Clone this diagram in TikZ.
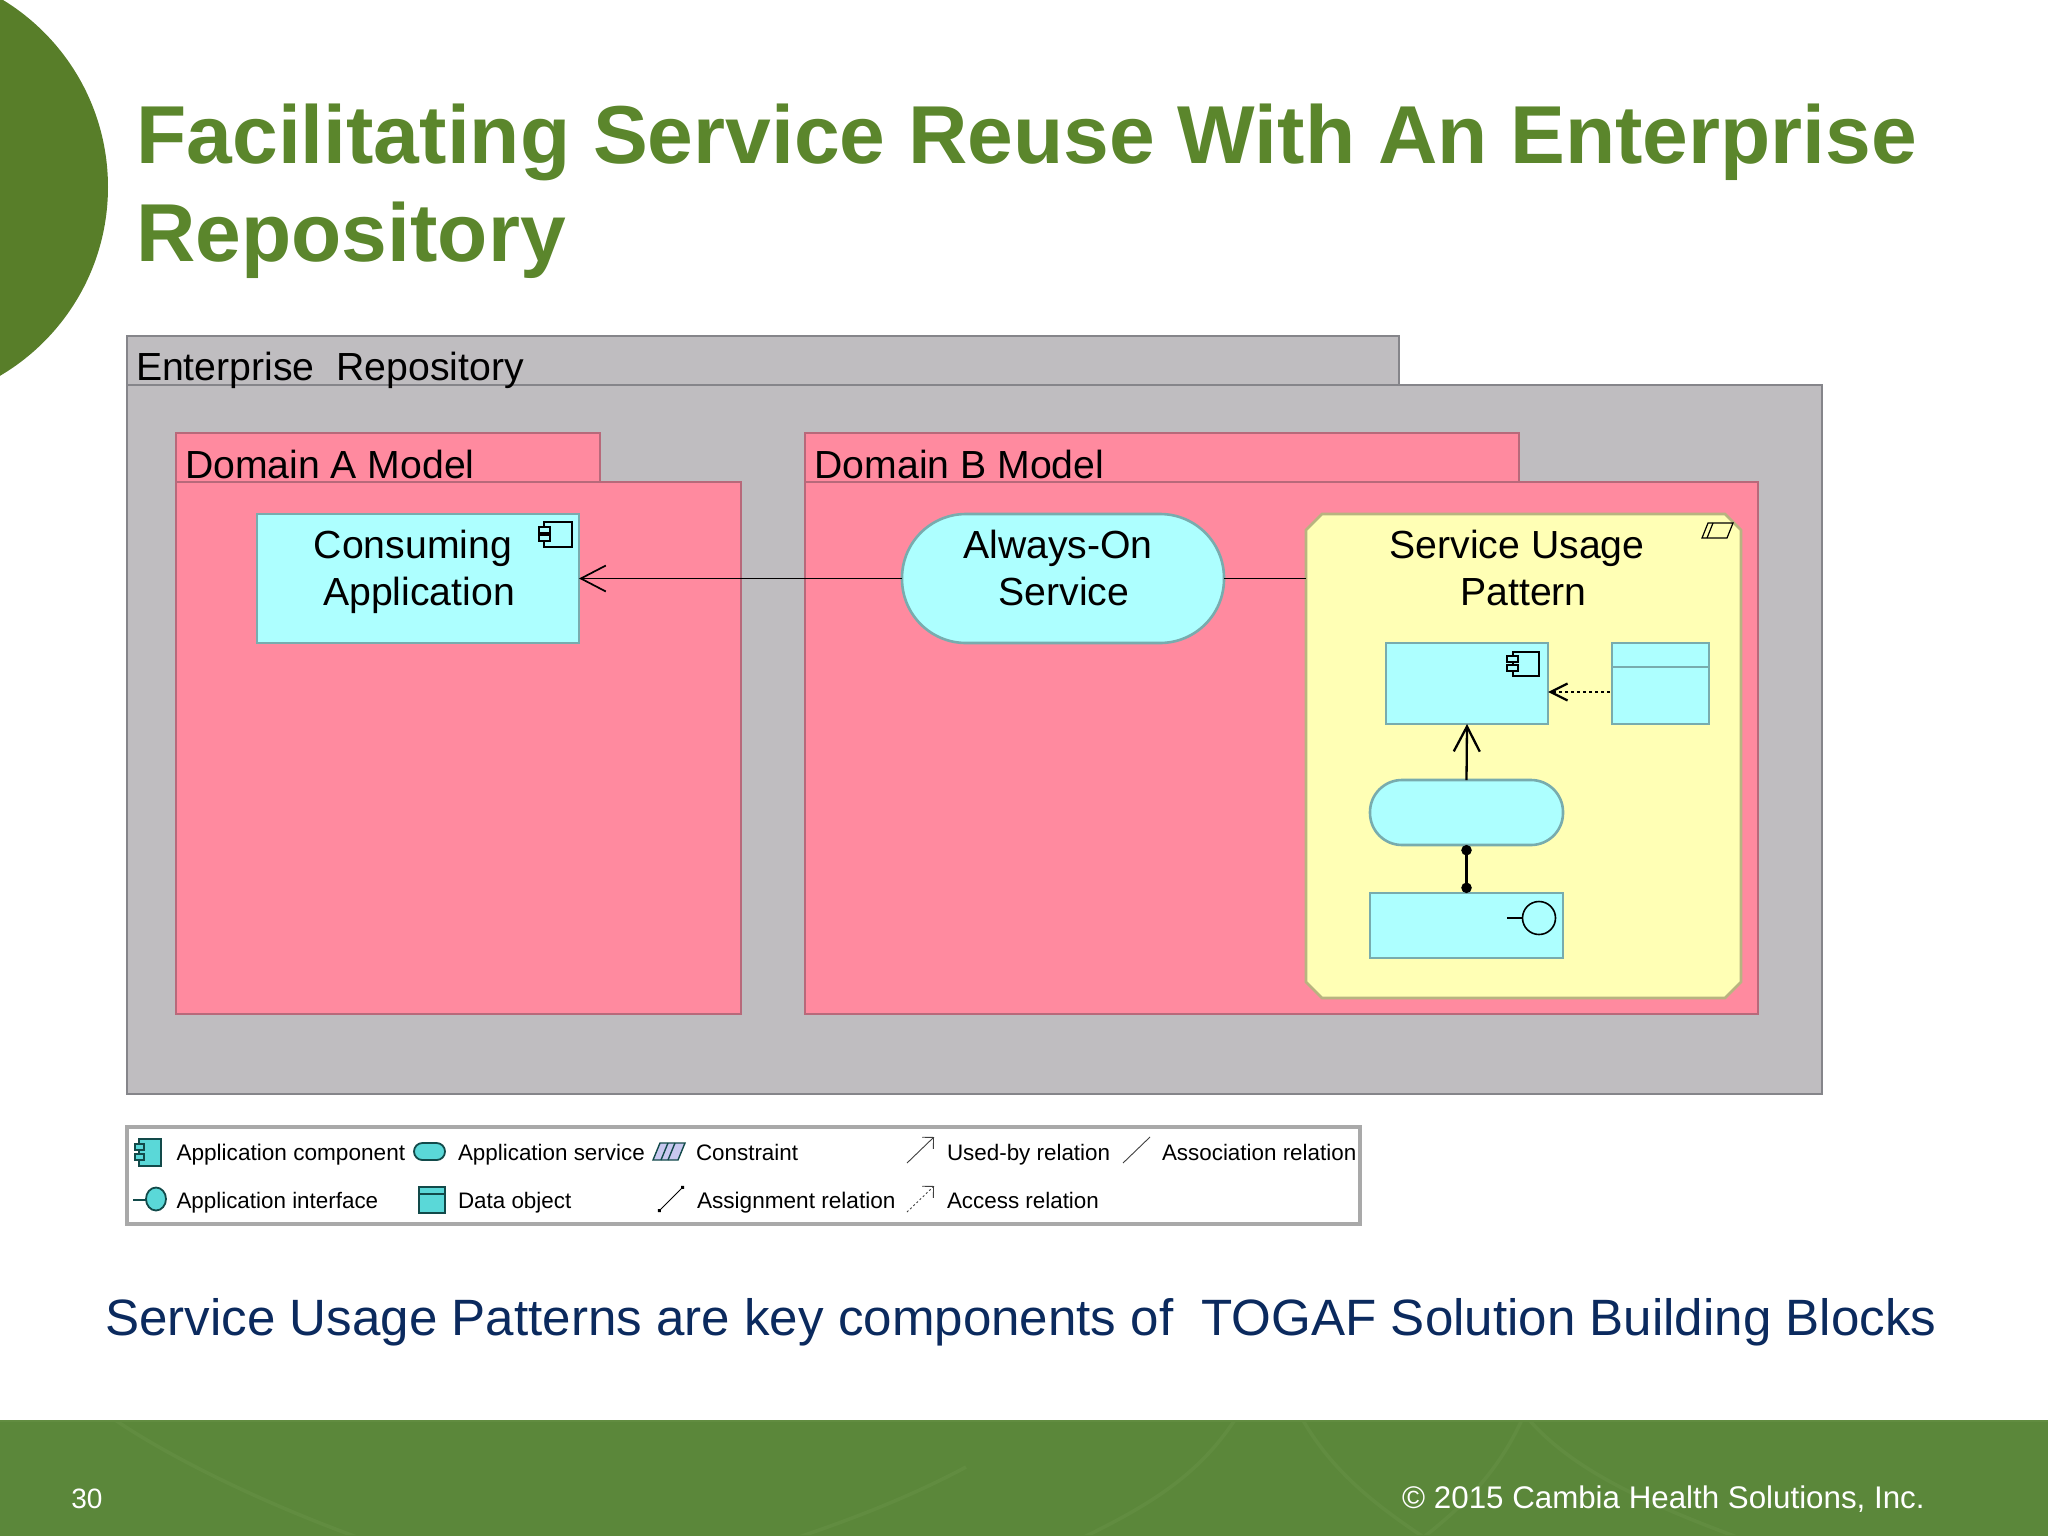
\documentclass[tikz,border=0pt]{standalone}
\usepackage{fontspec}
\setmainfont{Liberation Sans}
\usetikzlibrary{arrows.meta}
\definecolor{leaf}{HTML}{587E29}
\definecolor{titlegreen}{HTML}{5B862C}
\definecolor{footgreen}{HTML}{5B873A}
\definecolor{footline}{HTML}{618C40}
\definecolor{navy}{HTML}{0B2A5E}
\definecolor{repofill}{HTML}{BFBDC0}
\definecolor{repoline}{HTML}{85858A}
\definecolor{domfill}{HTML}{FF8A9F}
\definecolor{domline}{HTML}{B8697A}
\definecolor{appfill}{HTML}{ADFFFF}
\definecolor{appline}{HTML}{78ACAE}
\definecolor{patfill}{HTML}{FFFFB5}
\definecolor{patline}{HTML}{B8B480}
\definecolor{iconfill}{HTML}{5AD8D8}
\definecolor{iconline}{HTML}{124A4A}
\definecolor{legline}{HTML}{A9A9A9}
\definecolor{lavender}{HTML}{C8C8F0}
\newcommand{\pxnode}[7][]{%
  \node[#2,#1,minimum width={(#5-#3)*0.5pt},minimum height={(#6-#4)*0.5pt},
        at={({(#3+#5)/2},{(#4+#6)/2})}] (#7) {};}
\tikzset{
  x=0.5pt,y=-0.5pt,
  shp/.style={draw,line width=1.3pt,inner sep=0pt,outer sep=0pt},
  repo/.style={shp,fill=repofill,draw=repoline},
  dom/.style={shp,fill=domfill,draw=domline},
  app/.style={shp,fill=appfill,draw=appline},
  appsvc/.style={shp,fill=appfill,draw=appline,rounded corners=16pt},
  appbig/.style={shp,fill=appfill,draw=appline,rounded corners=32pt},
  patarea/.style={inner sep=0pt,outer sep=0pt},
  patshape/.style={fill=patfill,draw=patline,line width=1.3pt},
  lbl/.style={inner sep=0pt,outer sep=0pt,anchor=base west,text=black,font=\fontsize{19.6}{23.5}\selectfont},
  mlbl/.style={inner sep=0pt,outer sep=0pt,anchor=base,align=center,text=black,font=\fontsize{19.6}{23.5}\selectfont},
  leg/.style={inner sep=0pt,outer sep=0pt,anchor=base west,text=black,font=\fontsize{11.2}{13}\selectfont},
  legw/.style={leg,font=\fontsize{11.3}{13}\selectfont},
  icon/.style={draw=black,line width=0.6pt},
  licon/.style={draw=iconline,fill=iconfill,line width=0.9pt},
  rel/.style={draw=black,line width=1.15pt},
  relthin/.style={draw=black,line width=0.85pt},
  lrel/.style={draw=black!75,line width=0.45pt},
  swoosh/.style={draw=footline,line width=1.8pt},
}
\begin{document}
\begin{tikzpicture}
\useasboundingbox (0,0) rectangle (2048,1536);
\fill[white] (0,0) rectangle (2048,1536);
\begin{scope}
\clip (0,0) rectangle (2048,1536);
\fill[leaf] (-111,187) circle [radius=219];
\end{scope}
% footer band
\fill[footgreen] (0,1420) rectangle (2048,1536);
\begin{scope}
\clip (0,1420) rectangle (2048,1534);
\draw[swoosh] (108,1415) .. controls (150,1445) and (240,1495) .. (365,1540);
\draw[swoosh] (966,1467) .. controls (910,1497) and (850,1520) .. (790,1540);
\draw[swoosh] (1238,1415) .. controls (1200,1475) and (1150,1505) .. (1078,1540);
\draw[swoosh] (1300,1415) .. controls (1330,1470) and (1375,1505) .. (1428,1540);
\draw[swoosh] (1524,1415) .. controls (1500,1470) and (1465,1505) .. (1420,1540);
\draw[swoosh] (1525,1415) .. controls (1570,1470) and (1650,1505) .. (1745,1540);
\end{scope}
\draw[footline,line width=1pt] (0,1420.5) -- (2048,1420.5);
% title
\node[inner sep=0pt,anchor=base west,text=titlegreen] (title1) at (136,163) {\fontsize{41.1}{49}\selectfont\bfseries Facilitating Service Reuse With An Enterprise};
\node[inner sep=0pt,anchor=base west,text=titlegreen] (title2) at (136,261) {\fontsize{41.1}{49}\selectfont\bfseries Repository};
% repository
\pxnode{repo}{127}{336}{1399}{385}{repotab}
\pxnode{repo}{127}{385}{1822}{1094}{repomain}
\node[lbl] (repolbl) at (136,380) {Enterprise\ \ Repository};
% domain A
\pxnode{dom}{176}{433}{600}{482}{atab}
\pxnode{dom}{176}{482}{741}{1014}{amain}
\node[lbl] (albl) at (185,478) {Domain A Model};
% domain B
\pxnode{dom}{805}{433}{1519}{482}{btab}
\pxnode{dom}{805}{482}{1758}{1014}{bmain}
\node[lbl] (blbl) at (814.5,478) {Domain B Model};
% consuming application
\pxnode{app}{257}{514}{579}{643}{cons}
\node[mlbl] (conslbl) at (419,605) {Consuming\hspace*{6pt}\\Application};
\draw[icon,fill=appfill] (544,522) rectangle (572,547);
\draw[icon,fill=appfill] (539,527) rectangle (550,533);
\draw[icon,fill=appfill] (539,535) rectangle (550,541);
% always-on
\pxnode{appbig}{902}{514}{1224}{643}{svca}
\node[mlbl] (svcalbl) at (1064,605) {Always-On\hspace*{6pt}\\Service};
% pattern
\draw[patshape] (1322,514) -- (1725,514) -- (1741,530) -- (1741,982) -- (1725,998) -- (1322,998) -- (1306,982) -- (1306,530) -- cycle;
\pxnode{patarea}{1306}{514}{1741}{998}{patt}
\node[mlbl] (pattlbl) at (1523.5,605) {Service Usage\hspace*{6.5pt}\\Pattern};
\draw[icon] (1708,523) -- (1733,523) -- (1727,538) -- (1702,538) -- cycle;
\draw[icon] (1713,523) -- (1707,538);
% inner elements
\pxnode{app}{1386}{643}{1548}{724}{comp}
\draw[icon,fill=appfill] (1513,652) rectangle (1539,676);
\draw[icon,fill=appfill] (1507,656) rectangle (1518,662);
\draw[icon,fill=appfill] (1507,665) rectangle (1518,671);
\pxnode{app}{1612}{643}{1709}{724}{data}
\draw[appline,line width=1.3pt] (1612,667) -- (1709,667);
\pxnode{appsvc}{1370}{780}{1563}{845}{svcb}
\pxnode{app}{1370}{893}{1563}{958}{ifc}
\draw[icon,line width=0.8pt] (1507,918) -- (1522.5,918);
\draw[icon,line width=0.8pt,fill=appfill] (1539,918) circle [radius=16.5];
% connectors
\draw[relthin,-{Straight Barb[length=12.5pt,width=13pt]}] (svca.west) -- (cons.east);
\draw[relthin] (svca.east) -- (svca.east -| patt.west);
\draw[rel,-{Straight Barb[length=12.5pt,width=13pt]}] (svcb.north) -- (comp.south);
\draw[rel,{Circle[length=5.2pt]}-{Circle[length=5.2pt]}] (svcb.south) -- (ifc.north);
\coordinate (accstart) at (1610,692);
\draw[rel,dash pattern=on 1.5pt off 1.5pt,-{Straight Barb[length=8.5pt,width=8.5pt]}] (accstart) -- (accstart -| comp.east);
% legend
\pxnode[fill=white,draw=legline,line width=2pt]{shp}{127}{1127}{1360}{1224}{legend}
\draw[licon] (139,1139) rectangle (161,1166);
\draw[licon] (135,1144) rectangle (144,1150);
\draw[licon] (135,1154) rectangle (144,1160);
\node[legw] (l1) at (176.5,1160) {Application component};
\draw[licon,rounded corners=4.2pt] (414,1143) rectangle (445,1160);
\node[leg] (l2) at (458,1160) {Application service};
\draw[draw=iconline,fill=lavender,line width=0.7pt] (660,1143) -- (685,1143) -- (678,1160) -- (653,1160) -- cycle;
\draw[draw=iconline,line width=0.7pt] (668,1143) -- (661,1160) (675,1143) -- (668,1160);
\node[leg] (l3) at (696,1160) {Constraint};
\coordinate (ua) at (907,1163); \coordinate (ub) at (934,1137);
\draw[lrel,-{Straight Barb[length=4pt,width=8pt]}] (ua) -- (ub);
\node[leg] (l4) at (947,1160) {Used-by relation};
\coordinate (aa) at (1123,1163); \coordinate (ab) at (1150,1137);
\draw[lrel] (aa) -- (ab);
\node[leg] (l5) at (1162,1160) {Association relation};
\draw[draw=iconline,line width=0.9pt] (133,1200) -- (146,1200);
\draw[licon] (156,1199) ellipse [x radius=10,y radius=11.5];
\node[leg] (l6) at (176.5,1208) {Application interface};
\draw[licon] (419,1187) rectangle (445,1213);
\draw[licon] (419,1187) rectangle (445,1194);
\node[leg] (l7) at (458,1208) {Data object};
\coordinate (sa) at (658,1212); \coordinate (sb) at (684,1186);
\draw[draw=black,line width=0.5pt,{Circle[length=2pt]}-{Circle[length=2pt]}] (sa) -- (sb);
\node[legw] (l8) at (697,1208) {Assignment relation};
\coordinate (ca) at (907,1212); \coordinate (cb) at (934,1186);
\draw[lrel,dash pattern=on 1pt off 1.2pt,-{Straight Barb[length=4pt,width=8pt]}] (ca) -- (cb);
\node[leg] (l9) at (947,1208) {Access relation};
% subtitle and footer text
\node[inner sep=0pt,anchor=base west,text=navy,font=\fontsize{25.55}{30}\selectfont] (sub) at (105,1335) {Service Usage Patterns are key components of\ \ TOGAF Solution Building Blocks};
\node[inner sep=0pt,anchor=base west,text=white,font=\fontsize{14}{17}\selectfont] (pageno) at (71,1508) {30};
\node[inner sep=0pt,anchor=base east,text=white,font=\fontsize{15.65}{19}\selectfont] (copy) at (1925,1508) {© 2015 Cambia Health Solutions, Inc.};
\end{tikzpicture}
\end{document}
